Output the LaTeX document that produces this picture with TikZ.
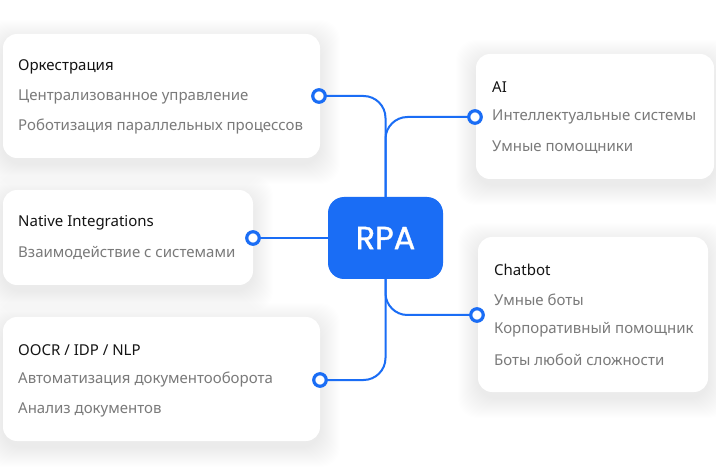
\documentclass[tikz,border=0pt]{standalone}
\usepackage{fontspec}
\setmainfont{Noto Sans}
\newfontfamily\rpafont[FakeBold=1.2]{Poppins}
\definecolor{rpablue}{HTML}{1A6DF5}
\definecolor{itemgrey}{HTML}{7A7A7A}
\definecolor{titleblack}{HTML}{141414}
\newcommand\cardshadow[4]{%
  \foreach \i in {1,...,20}{%
    \fill[black,opacity=0.0032,rounded corners=20pt]
      (#1-\i,#2-\i+6) rectangle (#3+\i,#4+\i+6);}}
\tikzset{
  cardbox/.style={fill=white,rounded corners=14pt},
  titletext/.style={anchor=west,inner sep=0,text=titleblack,font=\fontsize{15}{17}\selectfont},
  itemtext/.style={anchor=west,inner sep=0,text=itemgrey,font=\fontsize{15}{17}\selectfont},
  dotnode/.style={circle,draw=rpablue,line width=3.2pt,fill=white,minimum size=12.5pt,inner sep=0},
  link/.style={draw=rpablue,line width=2pt,rounded corners=22pt},
  rpabox/.style={fill=rpablue,rounded corners=16pt,minimum width=115pt,minimum height=82pt,
    text=white,font=\rpafont\fontsize{32}{35}\selectfont}
}
\begin{document}
\begin{tikzpicture}[x=1pt,y=-1pt]
\useasboundingbox[fill=white] (0,0) rectangle (716,476);
% shadows
\cardshadow{3}{34}{320}{158}
\cardshadow{476}{54}{714}{179}
\cardshadow{3}{190}{253}{285}
\cardshadow{478}{237}{708}{392}
\cardshadow{3}{317}{320}{441}
% cards
\node[cardbox,minimum width=317pt,minimum height=124pt] (orch) at (161.5,96) {};
\node[cardbox,minimum width=238pt,minimum height=125pt] (ai) at (595,116.5) {};
\node[cardbox,minimum width=250pt,minimum height=95pt] (native) at (128,237.5) {};
\node[cardbox,minimum width=230pt,minimum height=155pt] (chat) at (593,314.5) {};
\node[cardbox,minimum width=317pt,minimum height=124pt] (ocr) at (161.5,379) {};
% texts
\node[titletext] (t1) at (18,67) {Оркестрация};
\node[itemtext] (t1a) at (18,97) {Централизованное управление};
\node[itemtext] (t1b) at (18,127) {Роботизация параллельных процессов};
\node[titletext] (t2) at (492,87) {AI};
\node[itemtext] (t2a) at (492,117) {Интеллектуальные системы};
\node[itemtext] (t2b) at (492,147) {Умные помощники};
\node[titletext] (t3) at (18,223) {Native Integrations};
\node[itemtext] (t3a) at (18,253) {Взаимодействие с системами};
\node[titletext] (t4) at (494,270) {Chatbot};
\node[itemtext] (t4a) at (494,300) {Умные боты};
\node[itemtext] (t4b) at (494,330) {Корпоративный помощник};
\node[itemtext] (t4c) at (494,360) {Боты любой сложности};
\node[titletext] (t5) at (18,350) {OOCR / IDP / NLP};
\node[itemtext] (t5a) at (18,380) {Автоматизация документооборота};
\node[itemtext] (t5b) at (18,410) {Анализ документов};
% center
\node[rpabox] (rpa) at (385.5,238) {RPA};
% dots
\coordinate (d1) at (319,96);
\coordinate (d2) at (475,117);
\coordinate (d3) at (253,238);
\coordinate (d4) at (477,315);
\coordinate (d5) at (320,380);
% links
\draw[link] (rpa.north) |- (d1);
\draw[link] (rpa.north) |- (d2);
\draw[link] (rpa.south) |- (d4);
\draw[link] (rpa.south) |- (d5);
\draw[link] (d3) -- (rpa.west);
\node[dotnode] (n1) at (d1) {};
\node[dotnode] (n2) at (d2) {};
\node[dotnode] (n3) at (d3) {};
\node[dotnode] (n4) at (d4) {};
\node[dotnode] (n5) at (d5) {};
\end{tikzpicture}
\end{document}
